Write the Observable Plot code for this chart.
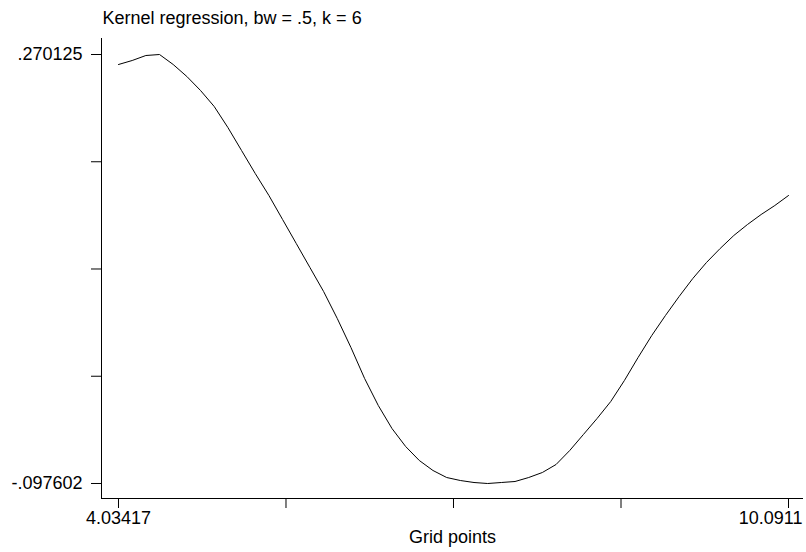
<!DOCTYPE html>
<html>
<head>
<meta charset="utf-8">
<script src="https://cdn.jsdelivr.net/npm/d3@7"></script>
<script src="https://cdn.jsdelivr.net/npm/@observablehq/plot@0.6"></script>
<style>
  html, body { margin: 0; padding: 0; background: #fff; }
  #chart { width: 806px; height: 552px; }
  svg { display: block; }
</style>
</head>
<body>
<div id="chart"></div>
<script>
const titleText = "Kernel regression, bw = .5, k = 6";
const xLabelText = "Grid points";

const gridPoints = [4.03417, 4.15778, 4.28139, 4.40500, 4.52861, 4.65222, 4.77583, 4.89945, 5.02306, 5.14667,
  5.27028, 5.39389, 5.51750, 5.64111, 5.76472, 5.88833, 6.01194, 6.13555, 6.25916, 6.38278,
  6.50639, 6.63000, 6.75361, 6.87722, 7.00083, 7.12444, 7.24805, 7.37166, 7.49527, 7.61888,
  7.74249, 7.86611, 7.98972, 8.11333, 8.23694, 8.36055, 8.48416, 8.60777, 8.73138, 8.85499,
  8.97860, 9.10221, 9.22582, 9.34944, 9.47305, 9.59666, 9.72027, 9.84388, 9.96749, 10.0911];

const regValues = [0.261553, 0.264982, 0.269268, 0.270125, 0.261553, 0.251267, 0.239267, 0.225552, 0.207551, 0.187836,
  0.168121, 0.149264, 0.128691, 0.108119, 0.087547, 0.066975, 0.043831, 0.018973, -0.007599, -0.030743,
  -0.050458, -0.065887, -0.077887, -0.086459, -0.092459, -0.095031, -0.096745, -0.097602, -0.096745, -0.095888,
  -0.092459, -0.088173, -0.081316, -0.069316, -0.055601, -0.041886, -0.027314, -0.009313, 0.010402, 0.029259,
  0.046403, 0.062689, 0.078118, 0.091833, 0.103833, 0.114977, 0.124406, 0.132977, 0.140692, 0.149264];

const xTicks = [4.03417, 5.5484025, 7.062635, 8.5768675, 10.0911];
const xTickLabels = ["4.03417", "", "", "", "10.0911"];
const yTicks = [-0.097602, -0.00567025, 0.0862615, 0.17819325, 0.270125];
const yTickLabels = ["-.097602", "", "", "", ".270125"];

const xDomain = [3.88049, 10.2267];
const yDomain = [-0.110460, 0.283840];

const data = gridPoints.map((x, i) => ({x, y: regValues[i]}));
const fontFamily = "'Liberation Sans', Arial, Helvetica, sans-serif";

const chart = Plot.plot({
  width: 806,
  height: 552,
  marginLeft: 101,
  marginRight: 3,
  marginTop: 38,
  marginBottom: 54,
  style: {fontFamily, fontSize: "18px", color: "#000", background: "#fff", overflow: "visible"},
  x: {domain: xDomain},
  y: {domain: yDomain},
  marks: [
    Plot.ruleX([xDomain[0]], {stroke: "#000", strokeWidth: 1}),
    Plot.ruleY([yDomain[0]], {stroke: "#000", strokeWidth: 1}),
    Plot.axisY(yTicks, {anchor: "left", tickSize: 10, tickPadding: 9, stroke: "#000", fill: "#000",
      tickFormat: (d) => yTickLabels[yTicks.indexOf(d)], label: null, fontSize: 18}),
    Plot.axisX(xTicks, {anchor: "bottom", tickSize: 10, tickFormat: () => "", label: null, stroke: "#000"}),
    Plot.axisX([xTicks[0]], {anchor: "bottom", tickSize: 10, tickPadding: 3, stroke: "none",
      tickFormat: () => xTickLabels[0], label: null, fontSize: 18, fill: "#000"}),
    Plot.axisX([xTicks[4]], {anchor: "bottom", tickSize: 10, tickPadding: 3, stroke: "none",
      tickFormat: () => xTickLabels[4], label: null, fontSize: 18, fill: "#000", textAnchor: "end", dx: 14}),
    Plot.text([xLabelText], {frameAnchor: "bottom", text: d => d, dy: 44, lineAnchor: "bottom",
      fontSize: 18, fill: "#000"}),
    Plot.text([titleText], {frameAnchor: "top-left", text: d => d, dx: 1, dy: -15, lineAnchor: "bottom",
      textAnchor: "start", fontSize: 18, fill: "#000"}),
    Plot.line(data, {x: "x", y: "y", stroke: "#000", strokeWidth: 1})
  ]
});
document.getElementById("chart").appendChild(chart);
</script>
</body>
</html>
